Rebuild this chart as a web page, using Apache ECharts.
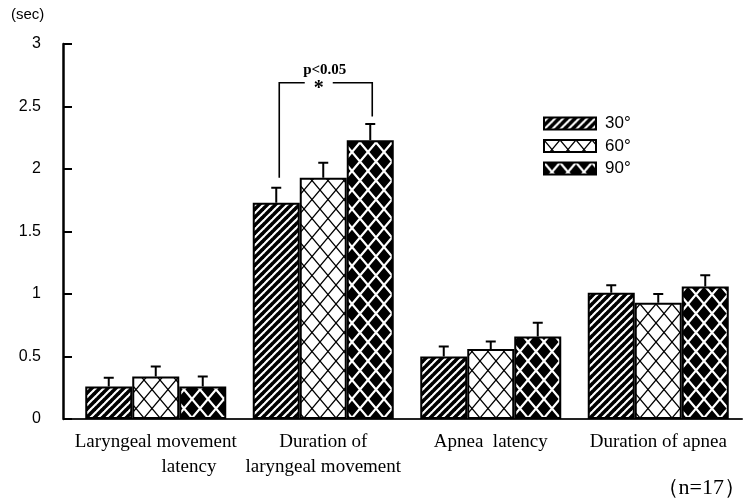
<!DOCTYPE html>
<html>
<head>
<meta charset="utf-8">
<script src="https://cdn.jsdelivr.net/npm/echarts@6/dist/echarts.min.js"></script>
<style>
  html, body { margin: 0; padding: 0; background: #fff; }
  #main { width: 749px; height: 501px; }
</style>
</head>
<body>
<div id="main"></div>
<script>
const categories = [
  "Laryngeal movement\n              latency",
  "Duration of\nlaryngeal movement",
  "Apnea  latency",
  "Duration of apnea"
];
const seriesNames = ["30°", "60°", "90°"];
const mean30 = [0.26, 1.73, 0.50, 1.01];
const mean60 = [0.34, 1.93, 0.56, 0.93];
const mean90 = [0.26, 2.23, 0.66, 1.06];
const err30 = [0.07, 0.12, 0.08, 0.06];
const err60 = [0.08, 0.12, 0.06, 0.07];
const err90 = [0.08, 0.13, 0.11, 0.09];
// significance bracket: category, left leg bottom, right leg bottom, top
const bracket = [[1, 1.93, 2.42, 2.69]];

const BAR_W = 47;

function makeCanvas(w, h) {
  const c = document.createElement("canvas");
  c.width = w; c.height = h;
  return c;
}

function stripes() {
  const c = makeCanvas(8, 8);
  const g = c.getContext("2d");
  g.fillStyle = "#fff";
  g.fillRect(0, 0, 8, 8);
  g.strokeStyle = "#000";
  g.lineWidth = 3.6;
  for (let k = -1; k <= 1; k++) {
    g.beginPath();
    g.moveTo(k * 8 - 1, 9);
    g.lineTo(k * 8 + 9, -1);
    g.stroke();
  }
  return c;
}

function lattice(bg, fg, lw) {
  const c = makeCanvas(16, 19);
  const g = c.getContext("2d");
  g.fillStyle = bg;
  g.fillRect(0, 0, 16, 19);
  g.strokeStyle = fg;
  g.lineWidth = lw;
  g.beginPath();
  g.moveTo(0, 0); g.lineTo(16, 19);
  g.moveTo(16, 0); g.lineTo(0, 19);
  g.stroke();
  return c;
}

const fills = [
  { image: stripes(), repeat: "repeat" },
  { image: lattice("#fff", "#000", 1.3), repeat: "repeat" },
  { image: lattice("#000", "#fff", 2.2), repeat: "repeat" }
];
const means = [mean30, mean60, mean90];
const errs = [err30, err60, err90];

const barSeries = means.map((m, i) => ({
  name: seriesNames[i],
  type: "bar",
  data: m,
  barWidth: BAR_W,
  barGap: "0%",
  itemStyle: { color: fills[i], borderColor: "#000", borderWidth: 2 },
  emphasis: { disabled: true },
  z: 2
}));

const errSeries = errs.map((e, i) => ({
  name: "err" + i,
  type: "custom",
  data: e.map((v, j) => [j, means[i][j], v]),
  z: 3,
  renderItem: function (params, api) {
    const lo = api.coord([api.value(0), api.value(1)]);
    const hi = api.coord([api.value(0), api.value(1) + api.value(2)]);
    const x = lo[0] + (i - 1) * BAR_W;
    return {
      type: "group",
      children: [
        { type: "line", shape: { x1: x, y1: lo[1], x2: x, y2: hi[1] },
          style: { stroke: "#000", lineWidth: 2 } },
        { type: "line", shape: { x1: x - 5, y1: hi[1], x2: x + 5, y2: hi[1] },
          style: { stroke: "#000", lineWidth: 2 } }
      ]
    };
  }
}));

const bracketSeries = {
  name: "sig",
  type: "custom",
  data: bracket,
  z: 4,
  renderItem: function (params, api) {
    const c = api.value(0);
    const l = api.coord([c, api.value(1)]);
    const r = api.coord([c, api.value(2)]);
    const t = api.coord([c, api.value(3)]);
    const xl = l[0] - BAR_W + 3;
    const xr = r[0] + BAR_W + 2;
    const xm = (xl + xr) / 2;
    const st = { stroke: "#000", lineWidth: 1.6, fill: null };
    return {
      type: "group",
      children: [
        { type: "polyline", shape: { points: [[xl, l[1]], [xl, t[1]], [xm - 21, t[1]]] }, style: st },
        { type: "polyline", shape: { points: [[xm + 7, t[1]], [xr, t[1]], [xr, r[1]]] }, style: st },
        { type: "text", x: xm - 7, y: t[1] + 6,
          style: { text: "*", fill: "#000", font: "bold 20px 'Liberation Serif'", align: "center", verticalAlign: "middle" } },
        { type: "text", x: xm - 1, y: t[1] - 13,
          style: { text: "p<0.05", fill: "#000", font: "bold 15px 'Liberation Serif'", align: "center", verticalAlign: "middle" } }
      ]
    };
  }
};

const chart = echarts.init(document.getElementById("main"), null, { renderer: "canvas" });
chart.setOption({
  animation: false,
  backgroundColor: "#fff",
  grid: { left: 72, right: 7, top: 44, bottom: 82, containLabel: false },
  legend: {
    data: seriesNames,
    orient: "vertical",
    icon: "rect",
    left: 538,
    top: 110,
    itemWidth: 52,
    itemHeight: 12,
    itemGap: 5.5,
    textStyle: { fontFamily: "Liberation Sans", fontSize: 17, color: "#000", padding: [0, 0, 0, 4] },
    selectedMode: false
  },
  graphic: [
    { type: "text", left: 11, top: 7,
      style: { text: "(sec)", font: "15px 'Liberation Sans'", fill: "#000" } },
    { type: "text", right: 3, top: 477,
      style: { text: "（n=17）", font: "22px 'Liberation Serif'", fill: "#000" } },
    { type: "line", shape: { x1: 63, y1: 419, x2: 73, y2: 419 },
      style: { stroke: "#222", lineWidth: 2 } }
  ],
  xAxis: {
    type: "category",
    data: categories,
    axisLine: { lineStyle: { color: "#222", width: 2 } },
    axisTick: { show: false },
    axisLabel: {
      color: "#000",
      fontFamily: "Liberation Serif",
      fontSize: 19,
      lineHeight: 25,
      margin: 11,
      interval: 0
    }
  },
  yAxis: {
    type: "value",
    min: 0,
    max: 3,
    interval: 0.5,
    offset: 9,
    splitLine: { show: false },
    axisLine: { show: true, lineStyle: { color: "#000", width: 2.5 } },
    axisTick: { show: true, inside: true, length: 9, lineStyle: { color: "#000", width: 2 } },
    axisLabel: {
      color: "#000",
      fontFamily: "Liberation Sans",
      fontSize: 16,
      margin: 22
    }
  },
  series: barSeries.concat(errSeries, [bracketSeries])
});
</script>
</body>
</html>
